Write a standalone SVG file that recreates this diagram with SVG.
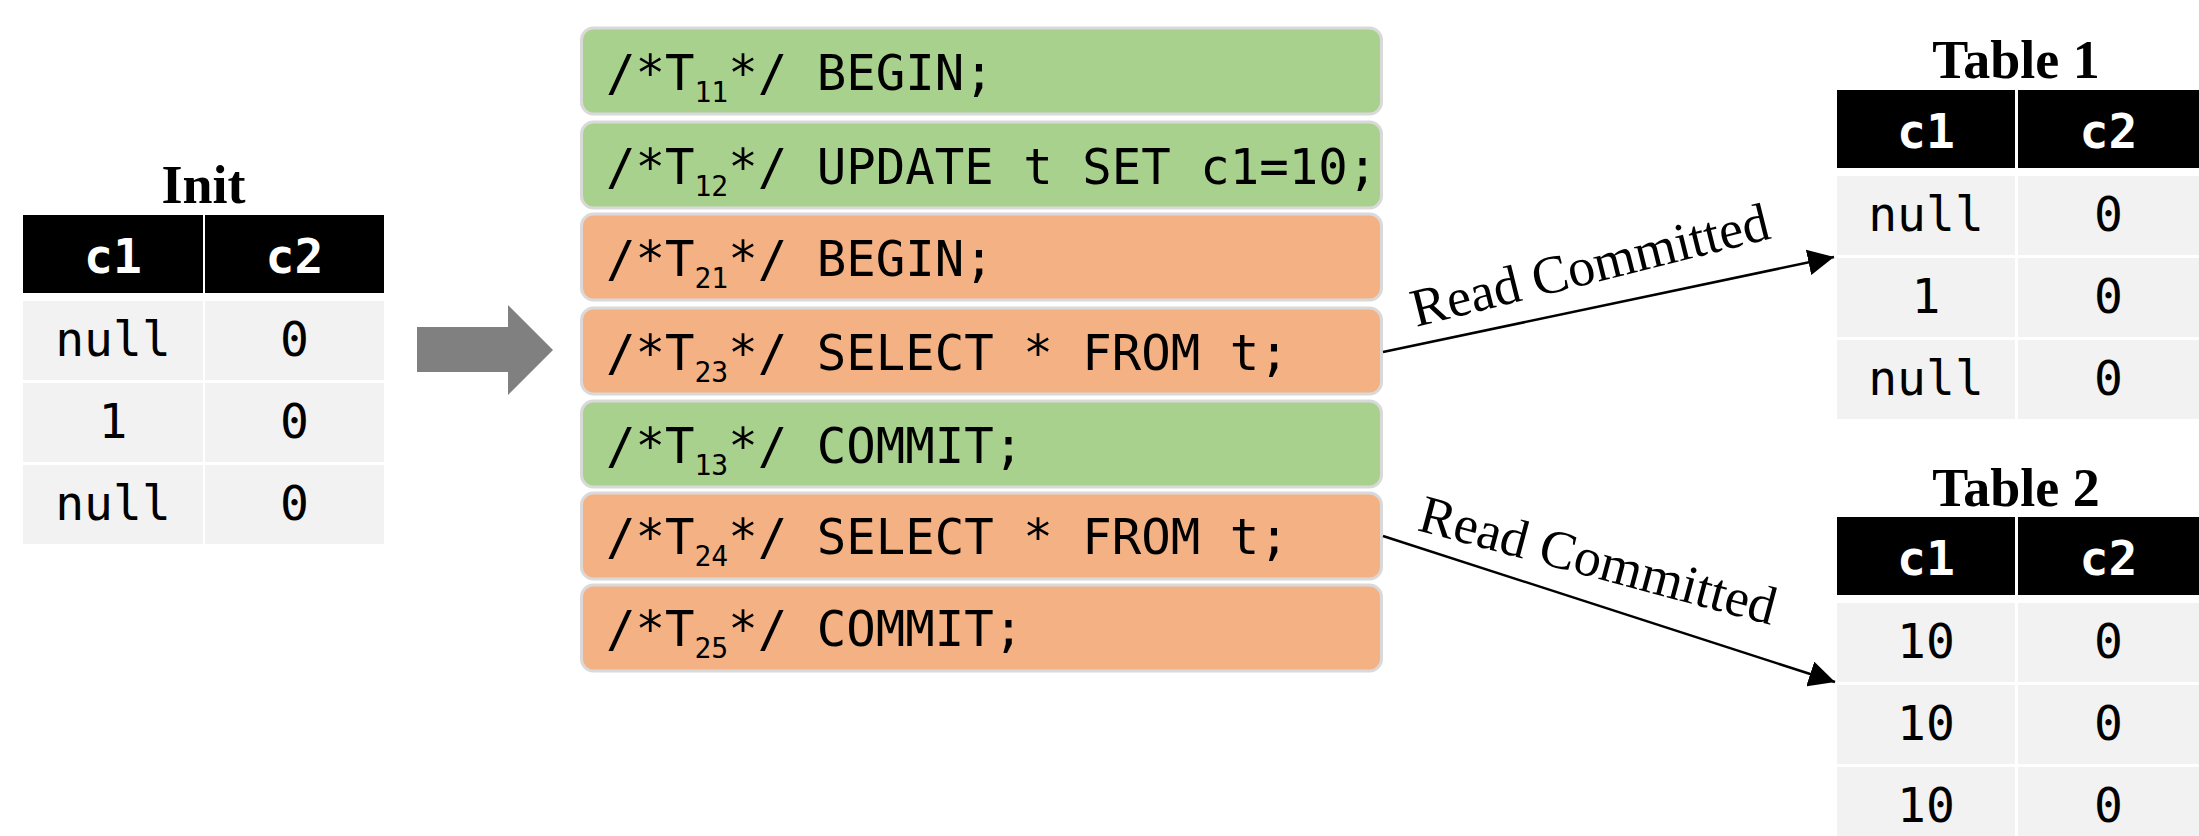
<svg xmlns="http://www.w3.org/2000/svg" width="2199" height="836" viewBox="0 0 2199 836">
<defs>
<style>
.title{font-family:"Liberation Serif","Times New Roman",serif;font-weight:bold;font-size:54px;fill:#000;text-anchor:middle}
.hd{fill:#000}
.cell{fill:#f2f2f2}
.ht{font-family:"DejaVu Sans Mono","Liberation Mono",monospace;font-weight:bold;font-size:48px;fill:#fff;text-anchor:middle}
.ct{font-family:"DejaVu Sans Mono","Liberation Mono",monospace;font-size:48px;fill:#000;text-anchor:middle}
.g{fill:#a9d18e;stroke:#d9d9d9;stroke-width:3}
.o{fill:#f4b183;stroke:#d9d9d9;stroke-width:3}
.st{font-family:"DejaVu Sans Mono","Liberation Mono",monospace;font-size:49px;fill:#000}
.sub{font-size:28px}
.lbl{font-family:"Liberation Serif","Times New Roman",serif;font-size:54px;fill:#000}
.conn{stroke:#000;stroke-width:2.5;fill:none}
</style>
<marker id="ah" markerUnits="userSpaceOnUse" markerWidth="26" markerHeight="26" refX="24" refY="12" orient="auto" viewBox="0 0 24 24"><path d="M0,0 L24,12 L0,24 z" fill="#000"/></marker>
</defs>
<rect width="2199" height="836" fill="#fff"/>

<g id="init">
<text class="title" x="203.5" y="203">Init</text>
<rect class="hd" x="23" y="215" width="180" height="78"/>
<rect class="hd" x="205" y="215" width="179" height="78"/>
<text class="ht" x="113" y="273">c1</text>
<text class="ht" x="294.5" y="273">c2</text>
<rect class="cell" x="23" y="301" width="180" height="79"/>
<rect class="cell" x="205" y="301" width="179" height="79"/>
<rect class="cell" x="23" y="383" width="180" height="79"/>
<rect class="cell" x="205" y="383" width="179" height="79"/>
<rect class="cell" x="23" y="465" width="180" height="79"/>
<rect class="cell" x="205" y="465" width="179" height="79"/>
<text class="ct" x="113" y="356">null</text>
<text class="ct" x="294.5" y="356">0</text>
<text class="ct" x="113" y="438">1</text>
<text class="ct" x="294.5" y="438">0</text>
<text class="ct" x="113" y="520">null</text>
<text class="ct" x="294.5" y="520">0</text>
</g>

<g id="big-arrow">
<polygon points="417,327 508,327 508,305 553,350 508,395 508,372 417,372" fill="#808080"/>
</g>

<g id="s1"><rect class="g" x="581.5" y="28" width="800" height="86" rx="12"/>
<text class="st" x="606" y="90">/*T<tspan class="sub" dy="12">11</tspan><tspan dy="-12">*/ BEGIN;</tspan></text></g>
<g id="s2"><rect class="g" x="581.5" y="122" width="800" height="86" rx="12"/>
<text class="st" x="606" y="184">/*T<tspan class="sub" dy="12">12</tspan><tspan dy="-12">*/ UPDATE t SET c1=10;</tspan></text></g>
<g id="s3"><rect class="o" x="581.5" y="214" width="800" height="86" rx="12"/>
<text class="st" x="606" y="276">/*T<tspan class="sub" dy="12">21</tspan><tspan dy="-12">*/ BEGIN;</tspan></text></g>
<g id="s4"><rect class="o" x="581.5" y="308" width="800" height="86" rx="12"/>
<text class="st" x="606" y="370">/*T<tspan class="sub" dy="12">23</tspan><tspan dy="-12">*/ SELECT * FROM t;</tspan></text></g>
<g id="s5"><rect class="g" x="581.5" y="401" width="800" height="86" rx="12"/>
<text class="st" x="606" y="463">/*T<tspan class="sub" dy="12">13</tspan><tspan dy="-12">*/ COMMIT;</tspan></text></g>
<g id="s6"><rect class="o" x="581.5" y="493" width="800" height="86" rx="12"/>
<text class="st" x="606" y="554">/*T<tspan class="sub" dy="12">24</tspan><tspan dy="-12">*/ SELECT * FROM t;</tspan></text></g>
<g id="s7"><rect class="o" x="581.5" y="585" width="800" height="86" rx="12"/>
<text class="st" x="606" y="646">/*T<tspan class="sub" dy="12">25</tspan><tspan dy="-12">*/ COMMIT;</tspan></text></g>

<g id="connectors">
<line class="conn" x1="1383" y1="352" x2="1834" y2="257" marker-end="url(#ah)"/>
<line class="conn" x1="1383" y1="536" x2="1835" y2="682" marker-end="url(#ah)"/>
<text class="lbl" transform="translate(1416,327) rotate(-14)">Read Committed</text>
<text class="lbl" transform="translate(1416,530) rotate(15)">Read Committed</text>
</g>

<g id="table1">
<text class="title" x="2016" y="78">Table 1</text>
<rect class="hd" x="1837" y="90" width="178" height="78"/>
<rect class="hd" x="2018" y="90" width="181" height="78"/>
<text class="ht" x="1926" y="148">c1</text>
<text class="ht" x="2108.5" y="148">c2</text>
<rect class="cell" x="1837" y="176" width="178" height="79"/>
<rect class="cell" x="2018" y="176" width="181" height="79"/>
<rect class="cell" x="1837" y="258" width="178" height="79"/>
<rect class="cell" x="2018" y="258" width="181" height="79"/>
<rect class="cell" x="1837" y="340" width="178" height="79"/>
<rect class="cell" x="2018" y="340" width="181" height="79"/>
<text class="ct" x="1926" y="231">null</text>
<text class="ct" x="2108.5" y="231">0</text>
<text class="ct" x="1926" y="313">1</text>
<text class="ct" x="2108.5" y="313">0</text>
<text class="ct" x="1926" y="395">null</text>
<text class="ct" x="2108.5" y="395">0</text>
</g>

<g id="table2">
<text class="title" x="2016" y="506">Table 2</text>
<rect class="hd" x="1837" y="517" width="178" height="78"/>
<rect class="hd" x="2018" y="517" width="181" height="78"/>
<text class="ht" x="1926" y="575">c1</text>
<text class="ht" x="2108.5" y="575">c2</text>
<rect class="cell" x="1837" y="603" width="178" height="79"/>
<rect class="cell" x="2018" y="603" width="181" height="79"/>
<rect class="cell" x="1837" y="685" width="178" height="79"/>
<rect class="cell" x="2018" y="685" width="181" height="79"/>
<rect class="cell" x="1837" y="767" width="178" height="79"/>
<rect class="cell" x="2018" y="767" width="181" height="79"/>
<text class="ct" x="1926" y="658">10</text>
<text class="ct" x="2108.5" y="658">0</text>
<text class="ct" x="1926" y="740">10</text>
<text class="ct" x="2108.5" y="740">0</text>
<text class="ct" x="1926" y="822">10</text>
<text class="ct" x="2108.5" y="822">0</text>
</g>
</svg>
